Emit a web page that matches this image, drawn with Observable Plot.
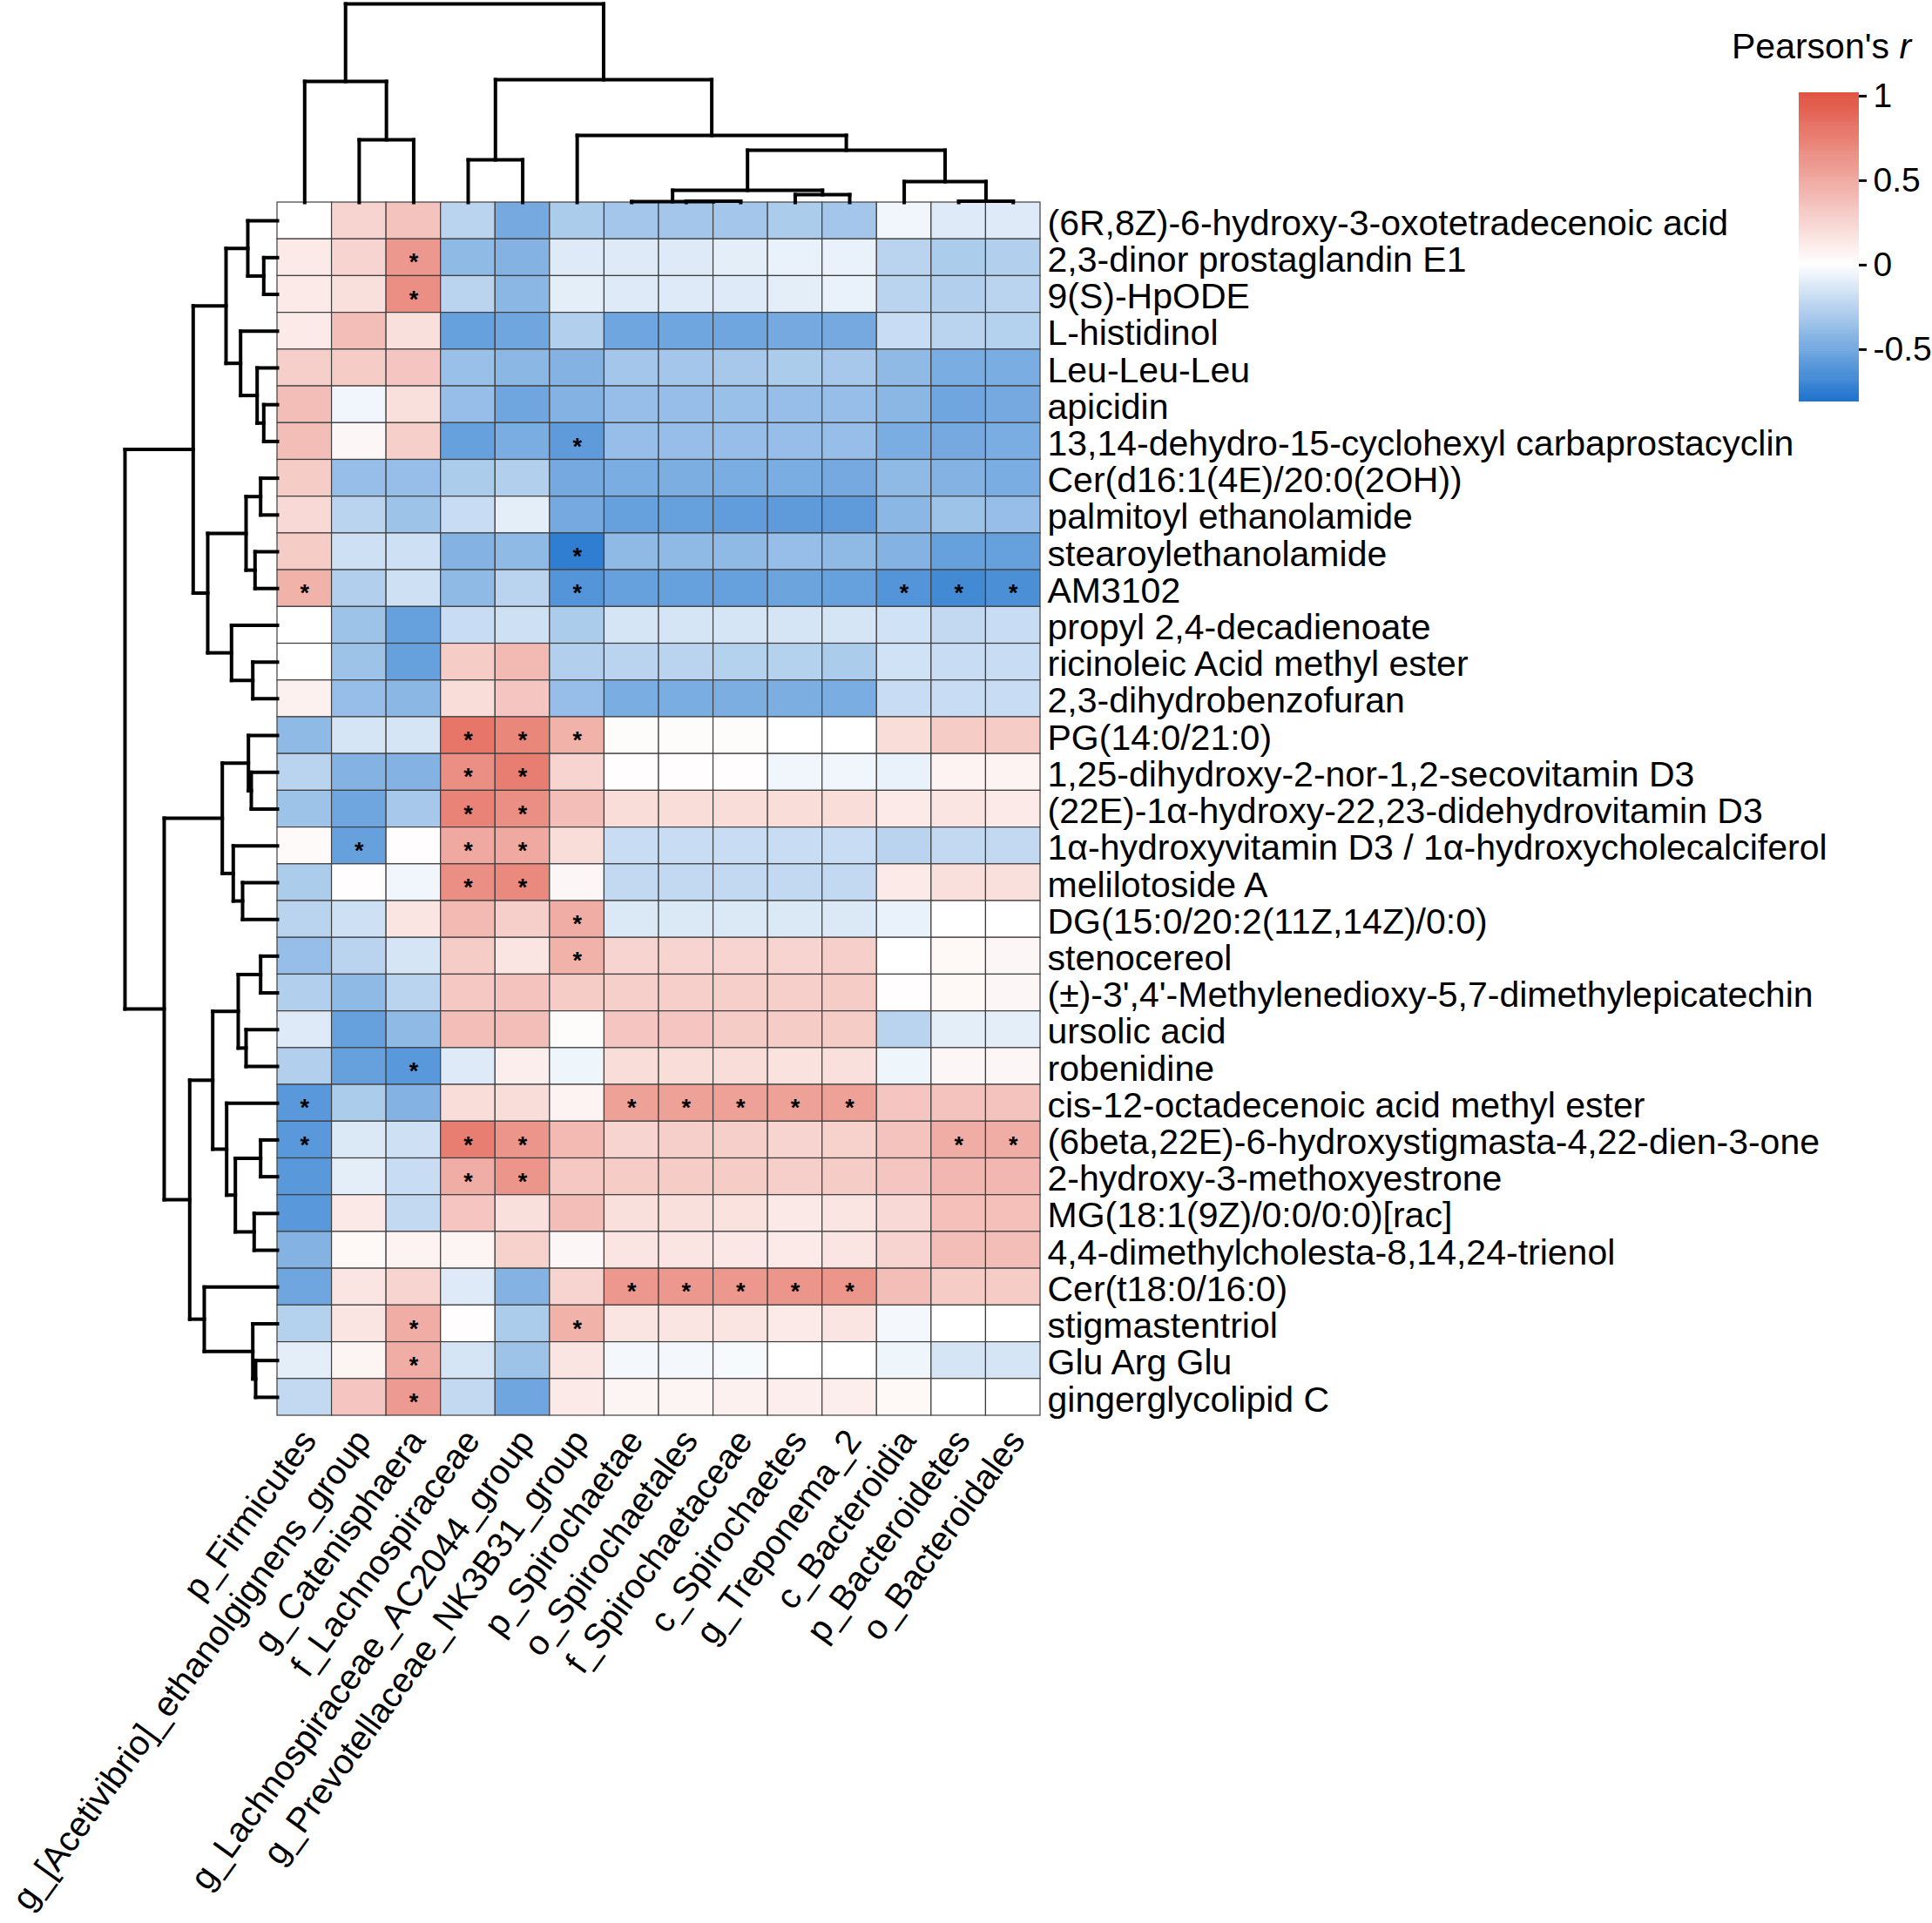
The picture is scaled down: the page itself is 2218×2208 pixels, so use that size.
<!DOCTYPE html>
<html><head><meta charset="utf-8">
<script src="https://cdn.jsdelivr.net/npm/d3@7"></script>
<script src="https://cdn.jsdelivr.net/npm/@observablehq/plot@0.6"></script>
<style>
body{margin:0;background:#fff;}
#wrap{position:relative;width:2218px;height:2208px;overflow:hidden;background:#fff;font-family:"Liberation Sans",Arial,sans-serif;}
#wrap svg{position:absolute;max-width:none;}
#title{position:absolute;left:1988px;top:33px;font-size:41px;line-height:41px;white-space:nowrap;color:#000;}
</style></head>
<body><div id="wrap"><div id="title">Pearson's <i>r</i></div></div>
<script>
// ---------- data ----------
const rowLabels = [
  "(6R,8Z)-6-hydroxy-3-oxotetradecenoic acid",
  "2,3-dinor prostaglandin E1",
  "9(S)-HpODE",
  "L-histidinol",
  "Leu-Leu-Leu",
  "apicidin",
  "13,14-dehydro-15-cyclohexyl carbaprostacyclin",
  "Cer(d16:1(4E)/20:0(2OH))",
  "palmitoyl ethanolamide",
  "stearoylethanolamide",
  "AM3102",
  "propyl 2,4-decadienoate",
  "ricinoleic Acid methyl ester",
  "2,3-dihydrobenzofuran",
  "PG(14:0/21:0)",
  "1,25-dihydroxy-2-nor-1,2-secovitamin D3",
  "(22E)-1α-hydroxy-22,23-didehydrovitamin D3",
  "1α-hydroxyvitamin D3 / 1α-hydroxycholecalciferol",
  "melilotoside A",
  "DG(15:0/20:2(11Z,14Z)/0:0)",
  "stenocereol",
  "(±)-3',4'-Methylenedioxy-5,7-dimethylepicatechin",
  "ursolic acid",
  "robenidine",
  "cis-12-octadecenoic acid methyl ester",
  "(6beta,22E)-6-hydroxystigmasta-4,22-dien-3-one",
  "2-hydroxy-3-methoxyestrone",
  "MG(18:1(9Z)/0:0/0:0)[rac]",
  "4,4-dimethylcholesta-8,14,24-trienol",
  "Cer(t18:0/16:0)",
  "stigmastentriol",
  "Glu Arg Glu",
  "gingerglycolipid C"
];
const colLabels = [
  "p_Firmicutes",
  "g_[Acetivibrio]_ethanolgignens_group",
  "g_Catenisphaera",
  "f_Lachnospiraceae",
  "g_Lachnospiraceae_AC2044_group",
  "g_Prevotellaceae_NK3B31_group",
  "p_Spirochaetae",
  "o_Spirochaetales",
  "f_Spirochaetaceae",
  "c_Spirochaetes",
  "g_Treponema_2",
  "c_Bacteroidia",
  "p_Bacteroidetes",
  "o_Bacteroidales"
];
// Pearson's r, one array per row (columns in colLabels order)
const values = [
  [0.00, 0.25, 0.35, -0.25, -0.50, -0.30, -0.33, -0.33, -0.33, -0.30, -0.33, -0.05, -0.12, -0.12],
  [0.12, 0.25, 0.60, -0.40, -0.45, -0.12, -0.12, -0.12, -0.10, -0.08, -0.08, -0.25, -0.30, -0.28],
  [0.12, 0.18, 0.65, -0.25, -0.42, -0.10, -0.12, -0.12, -0.12, -0.10, -0.08, -0.25, -0.28, -0.25],
  [0.12, 0.38, 0.18, -0.55, -0.52, -0.28, -0.52, -0.52, -0.52, -0.50, -0.50, -0.20, -0.25, -0.27],
  [0.28, 0.30, 0.33, -0.37, -0.42, -0.45, -0.33, -0.33, -0.32, -0.30, -0.32, -0.40, -0.48, -0.48],
  [0.38, -0.05, 0.18, -0.38, -0.52, -0.45, -0.38, -0.38, -0.37, -0.38, -0.38, -0.42, -0.52, -0.50],
  [0.38, 0.05, 0.28, -0.55, -0.48, -0.58, -0.38, -0.38, -0.38, -0.38, -0.38, -0.48, -0.50, -0.48],
  [0.30, -0.38, -0.38, -0.30, -0.28, -0.50, -0.48, -0.47, -0.48, -0.48, -0.50, -0.40, -0.45, -0.48],
  [0.22, -0.25, -0.35, -0.20, -0.10, -0.50, -0.55, -0.55, -0.57, -0.58, -0.58, -0.42, -0.35, -0.38],
  [0.30, -0.18, -0.18, -0.45, -0.40, -0.75, -0.40, -0.40, -0.40, -0.38, -0.40, -0.45, -0.55, -0.55],
  [0.45, -0.28, -0.18, -0.40, -0.25, -0.62, -0.55, -0.55, -0.55, -0.53, -0.55, -0.62, -0.68, -0.65],
  [0.00, -0.35, -0.55, -0.20, -0.18, -0.30, -0.15, -0.15, -0.15, -0.15, -0.15, -0.17, -0.22, -0.20],
  [0.00, -0.35, -0.55, 0.30, 0.40, -0.28, -0.25, -0.25, -0.27, -0.27, -0.30, -0.17, -0.20, -0.20],
  [0.08, -0.38, -0.42, 0.20, 0.33, -0.38, -0.48, -0.48, -0.47, -0.47, -0.48, -0.20, -0.20, -0.20],
  [-0.40, -0.15, -0.15, 0.80, 0.70, 0.45, 0.02, 0.02, 0.02, 0.00, 0.00, 0.20, 0.30, 0.30],
  [-0.25, -0.45, -0.45, 0.65, 0.75, 0.25, 0.01, 0.01, 0.01, -0.05, -0.05, -0.08, 0.07, 0.07],
  [-0.35, -0.52, -0.32, 0.72, 0.65, 0.38, 0.20, 0.20, 0.20, 0.20, 0.20, 0.12, 0.15, 0.12],
  [0.03, -0.55, 0.01, 0.50, 0.50, 0.20, -0.20, -0.20, -0.20, -0.20, -0.20, -0.25, -0.22, -0.22],
  [-0.30, 0.01, -0.05, 0.65, 0.68, 0.05, -0.22, -0.22, -0.22, -0.22, -0.22, 0.12, 0.18, 0.18],
  [-0.25, -0.18, 0.15, 0.40, 0.28, 0.48, -0.13, -0.13, -0.13, -0.13, -0.13, -0.08, 0.00, 0.00],
  [-0.38, -0.25, -0.15, 0.30, 0.15, 0.45, 0.25, 0.25, 0.25, 0.25, 0.28, 0.00, 0.04, 0.05],
  [-0.28, -0.40, -0.25, 0.32, 0.35, 0.30, 0.28, 0.28, 0.28, 0.28, 0.30, 0.01, 0.04, 0.05],
  [-0.12, -0.55, -0.40, 0.38, 0.38, 0.02, 0.33, 0.33, 0.30, 0.30, 0.30, -0.25, -0.10, -0.10],
  [-0.28, -0.55, -0.60, -0.12, 0.10, -0.06, 0.20, 0.20, 0.20, 0.17, 0.18, -0.06, 0.05, 0.05],
  [-0.60, -0.30, -0.45, 0.20, 0.20, 0.07, 0.55, 0.55, 0.55, 0.55, 0.55, 0.33, 0.35, 0.35],
  [-0.60, -0.13, -0.18, 0.75, 0.62, 0.40, 0.25, 0.28, 0.28, 0.25, 0.27, 0.35, 0.48, 0.48],
  [-0.60, -0.10, -0.20, 0.48, 0.62, 0.32, 0.30, 0.30, 0.30, 0.28, 0.30, 0.33, 0.42, 0.42],
  [-0.60, 0.13, -0.22, 0.33, 0.18, 0.38, 0.18, 0.18, 0.17, 0.13, 0.15, 0.22, 0.37, 0.37],
  [-0.45, 0.04, 0.07, 0.06, 0.27, 0.05, 0.15, 0.15, 0.14, 0.12, 0.15, 0.25, 0.38, 0.38],
  [-0.52, 0.15, 0.25, -0.12, -0.45, 0.25, 0.60, 0.60, 0.60, 0.62, 0.62, 0.38, 0.30, 0.30],
  [-0.27, 0.15, 0.48, 0.01, -0.30, 0.45, 0.15, 0.15, 0.15, 0.12, 0.15, -0.04, 0.00, 0.00],
  [-0.10, 0.06, 0.48, -0.15, -0.35, 0.15, -0.04, -0.04, -0.03, 0.00, 0.00, -0.06, -0.15, -0.15],
  [-0.22, 0.33, 0.58, -0.22, -0.52, 0.12, 0.06, 0.06, 0.08, 0.10, 0.10, 0.04, 0.00, 0.00]
];
// significance marks: column indices per row
const significant = [
  [], [2], [2], [], [], [], [5], [], [], [5], [0, 5, 11, 12, 13], [], [], [],
  [3, 4, 5], [3, 4], [3, 4], [1, 3, 4], [3, 4], [5], [5], [], [], [2],
  [0, 6, 7, 8, 9, 10], [0, 3, 4, 12, 13], [3, 4], [], [], [6, 7, 8, 9, 10],
  [2, 5], [2], [2]
];
// dendrograms: [mergeHeight, left, right]; leaves are row/column indices
const rowTree = [175,
  [96.7,
    [59, [34, 0, [15.7, 1, 2]], [42.3, 3, [23.3, 4, [15.7, 5, 6]]]],
    [80, [36, [19.3, 7, 8], [25.7, 9, 10]], [52.7, 11, [28.3, 12, 13]]]
  ],
  [130,
    [63.3, [33.3, 14, [30, 15, 16]], [50.7, 17, [40, 18, 19]]],
    [100.7,
      [74.3, [45, [19.3, 20, 21], [36, 22, 23]], [58.3, 24, [48.3, [19.3, 25, 26], [26.7, 27, 28]]]],
      [84, 29, [28.3, 30, [25, 31, 32]]]
    ]
  ]
];
const colTree = [228,
  [139, 0, [72, 1, 2]],
  [141, [49, 3, 4], [77, 5, [60, [14, [1, 6, [1.5, 7, 8]], [9, 9, 10]], [24, 11, [1.5, 12, 13]]]]]
];
const legendTicks = [-0.5, 0, 0.5, 1];
const colorDomain = [-0.81, 0, 1.02];
const colorRange = ["#1f74cd", "#ffffff", "#e0503f"];

// ---------- layout ----------
const W = 2218, H = 2208, L = 318, R = 1194, T = 232, B = 1625;
const nR = rowLabels.length, nC = colLabels.length;
const rowPx = (B - T) / nR, colPx = (R - L) / nC;
const topDepth = 228, leftDepth = 175;

const cells = values.flatMap((row, r) => row.map((v, c) => ({r, c, v})));
const stars = significant.flatMap((cs, r) => cs.map(c => ({r, c})));

function dendro(tree) {
  const segs = [];
  function walk(n) {
    if (typeof n === "number") return {p: n + 0.5, h: 0};
    const [h, a, b] = n, A = walk(a), Bn = walk(b);
    segs.push({p1: A.p, h1: A.h, p2: A.p, h2: h});
    segs.push({p1: Bn.p, h1: Bn.h, p2: Bn.p, h2: h});
    segs.push({p1: A.p, h1: h, p2: Bn.p, h2: h});
    return {p: (A.p + Bn.p) / 2, h};
  }
  walk(tree);
  return segs;
}
const topSegs = dendro(colTree), leftSegs = dendro(rowTree);
const ty = h => -h / colTree[0] * topDepth / rowPx;
const lx = h => -h / rowTree[0] * leftDepth / colPx;

const font = "'Liberation Sans', Arial, sans-serif";
const colorScale = {type: "linear", domain: colorDomain, range: colorRange};

const main = Plot.plot({
  width: W, height: H,
  marginLeft: L, marginRight: W - R, marginTop: T, marginBottom: H - B,
  x: {domain: [0, nC], axis: null},
  y: {domain: [0, nR], reverse: true, axis: null},
  color: colorScale,
  style: {fontFamily: font, background: "transparent", overflow: "visible", color: "black"},
  marks: [
    Plot.rect(cells, {x1: "c", x2: d => d.c + 1, y1: "r", y2: d => d.r + 1, fill: "v", stroke: "#3f3f3f", strokeWidth: 1.2}),
    Plot.text(stars, {x: d => d.c + 0.5, y: d => d.r + 0.5, text: d => "*", fontSize: 27, fontWeight: "bold", dy: 6, fill: "black"}),
    Plot.link(topSegs, {x1: "p1", x2: "p2", y1: d => ty(d.h1), y2: d => ty(d.h2), stroke: "black", strokeWidth: 4, strokeLinecap: "square"}),
    Plot.link(leftSegs, {y1: "p1", y2: "p2", x1: d => lx(d.h1), x2: d => lx(d.h2), stroke: "black", strokeWidth: 4, strokeLinecap: "square"}),
    Plot.text(rowLabels, {x: nC, y: (d, i) => i + 0.5, text: d => d, textAnchor: "start", dx: 8, dy: 3, fontSize: 41, fill: "black"}),
    Plot.text(colLabels, {x: (d, i) => i + 0.5, y: nR, text: d => d, textAnchor: "end", lineAnchor: "top", rotate: -54, dx: -8, dy: 12, fontSize: 40, fill: "black"})
  ]
});
main.style.left = "0px"; main.style.top = "0px";

const LX0 = 1960, LW = 258, LH = 500, barL = 2065, barR = 2134, barT = 106, barB = 461;
const stops = d3.range(colorDomain[0], colorDomain[2], 0.01);
const legend = Plot.plot({
  width: LW, height: LH,
  marginLeft: barL - LX0, marginRight: LW - (barR - LX0), marginTop: barT, marginBottom: LH - barB,
  x: {domain: [0, 1], axis: null},
  y: {domain: [colorDomain[0], colorDomain[2]], axis: null},
  color: colorScale,
  style: {fontFamily: font, background: "transparent", overflow: "visible", color: "black"},
  marks: [
    Plot.rect(stops, {x1: 0, x2: 1, y1: d => d, y2: d => Math.min(d + 0.013, colorDomain[2]), fill: d => d}),
    Plot.ruleY(legendTicks, {y: d => d, x1: 1, x2: 1.13, stroke: "black", strokeWidth: 3}),
    Plot.text(legendTicks, {y: d => d, x: 1, dx: 16, text: d => String(d), textAnchor: "start", fontSize: 39, fill: "black"})
  ]
});
legend.style.left = LX0 + "px"; legend.style.top = "0px";

const wrap = document.getElementById("wrap");
wrap.appendChild(main);
wrap.appendChild(legend);
</script>
</body></html>
